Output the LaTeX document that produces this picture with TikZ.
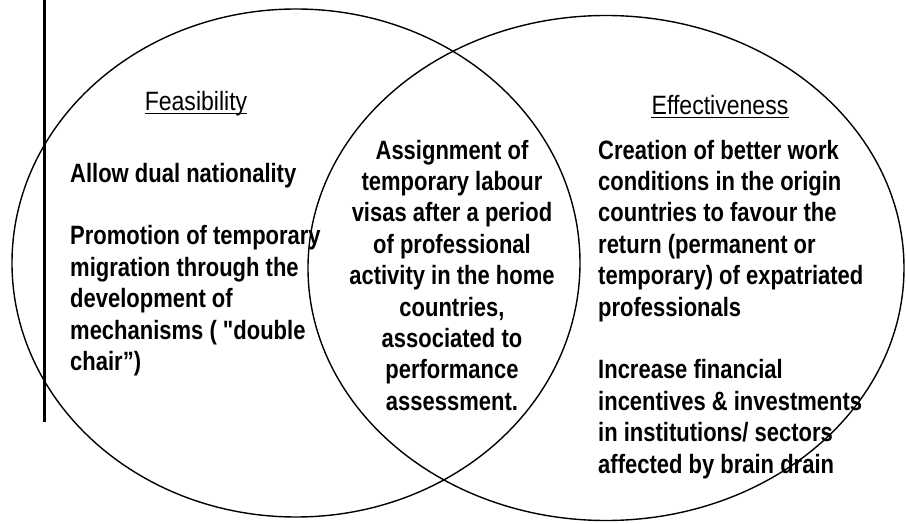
\documentclass[tikz,border=0pt]{standalone}
\usepackage{fontspec}
\usetikzlibrary{shapes.geometric}
\newfontfamily\txtfont{Liberation Sans Bold}[FakeStretch=0.83]
\newfontfamily\ttlfont{Liberation Sans}[FakeStretch=0.87]
\begin{document}
\begin{tikzpicture}[x=1pt,y=-1pt,
  venn/.style={draw=black, line width=1.4pt, ellipse, inner sep=0pt},
  lbl/.style={inner sep=0pt, text=black, font=\txtfont\fontsize{26.5}{31.4}\selectfont},
  ttl/.style={inner sep=0pt, text=black, font=\ttlfont\fontsize{26.5}{31.4}\selectfont},
  uline/.style={draw=black, line width=1.4pt}]
\useasboundingbox (0,0) rectangle (906,524);
% ellipses
\node[venn, minimum width=568pt, minimum height=508pt] (left) at (296,263) {};
\node[venn, minimum width=596pt, minimum height=505pt] (right) at (606,268) {};
% vertical bar
\coordinate (bartop) at (44,0);
\coordinate (barbot) at (44,422);
\draw[line width=3pt] (bartop) -- (barbot);
% titles
\node[ttl, anchor=base] (feas) at (196,110.5) {Feasibility};
\draw[uline] ([yshift=-3.3pt]feas.base west) -- ([yshift=-3.3pt]feas.base east);
\node[ttl, anchor=base] (eff) at (720,114.5) {Effectiveness};
\draw[uline] ([yshift=-3.3pt]eff.base west) -- ([yshift=-3.3pt]eff.base east);
% left text
\node[lbl, anchor=north west, align=left] (ltext) at (70,162.7)
 {Allow dual nationality\\[31.4pt]Promotion of temporary\\migration through the\\development of\\mechanisms ( "double\\chair”)};
% center text
\node[lbl, anchor=north, align=center] (ctext) at (452,139.7)
 {Assignment of\\temporary labour\\visas after a period\\of professional\\activity in the home\\countries,\\associated to\\performance\\assessment.};
% right text
\node[lbl, anchor=north west, align=left] (rtext) at (598,139.7)
 {Creation of better work\\conditions in the origin\\countries to favour the\\return (permanent or\\temporary) of expatriated\\professionals\\[31.4pt]Increase financial\\incentives \& investments\\in institutions/ sectors\\affected by brain drain};
\end{tikzpicture}
\end{document}
